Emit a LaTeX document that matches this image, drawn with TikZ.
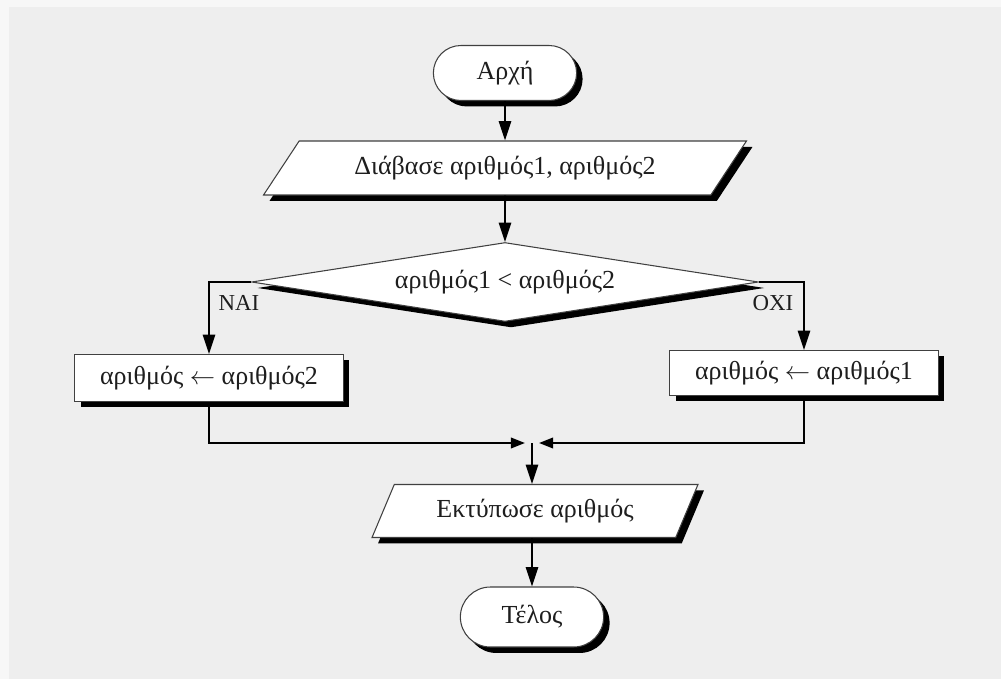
\documentclass[tikz,border=0pt]{standalone}
\usepackage{fontspec}
\setmainfont{Liberation Serif}
\usetikzlibrary{arrows.meta,shapes.geometric,shapes.misc,shadows}

\definecolor{pagebg}{HTML}{F7F7F7}
\definecolor{panelbg}{HTML}{EEEEEE}
\definecolor{ink}{HTML}{1E1E1E}

\begin{document}
\begin{tikzpicture}[x=0.02cm,y=-0.02cm,
    >={Triangle[length=11pt,width=7pt]},
    every node/.style={font=\fontsize{14.8}{17}\selectfont, text=ink},
    blackshadow/.style={drop shadow={shadow xshift=3.4pt,shadow yshift=-3.4pt,opacity=1,fill=black}},
    terminal/.style={rounded rectangle, draw=black!75, line width=0.6pt, fill=white, blackshadow, minimum width=3.1cm, minimum height=1.1cm},
    io/.style={trapezium, trapezium left angle=45, trapezium right angle=135, trapezium stretches body, draw=black!75, line width=0.6pt, fill=white, blackshadow, minimum height=1.08cm},
    process/.style={rectangle, draw=black!75, line width=0.6pt, fill=white, blackshadow, minimum width=5.38cm, minimum height=0.94cm},
    decision/.style={diamond, aspect=6.4, inner sep=1pt, draw=black!75, line width=0.6pt, fill=white, blackshadow, minimum width=10.14cm, minimum height=1.58cm},
    flow/.style={->, line width=1.1pt},
    lbl/.style={font=\fontsize{13}{15}\selectfont}]

    \fill[pagebg] (0,0) rectangle (1001,679); % page
    \fill[panelbg] (9,7) rectangle (1001,679); % panel

    \node[terminal] (start) at (505,73) {Αρχή}; % start
    \node[io, minimum width=9.66cm] (read) at (505,168) {Διάβασε αριθμός1, αριθμός2}; % input
    \node[decision] (cond) at (505,282) {αριθμός1 < αριθμός2}; % test
    \node[process] (yesbox) at (209,378) {αριθμός $\leftarrow$ αριθμός2}; % yes branch
    \node[process, minimum height=0.9cm] (nobox) at (804,373) {αριθμός $\leftarrow$ αριθμός1}; % no branch
    \node[io, trapezium left angle=58, trapezium right angle=122, minimum width=6.52cm, minimum height=1.06cm] (print) at (535,511) {Εκτύπωσε αριθμός}; % output
    \node[terminal, minimum height=1.2cm] (end) at (532,617) {Τέλος}; % end

    \node[lbl] (yes) at (239,303) {ΝΑΙ};
    \node[lbl] (no) at (773,303) {ΟΧΙ};

    \coordinate (join) at (532,443);
    \coordinate (joinL) at (525,443);
    \coordinate (joinR) at (539,443);

    \draw[flow] (start) -- (read);
    \draw[flow] (read) -- (cond);
    \draw[flow] (cond.west) -| (yesbox.north); % yes
    \draw[flow] (cond.east) -| (nobox.north); % no
    \draw[flow, -{Triangle[length=8pt,width=6pt]}] (yesbox.south) |- (joinL);
    \draw[flow, -{Triangle[length=8pt,width=6pt]}] (nobox.south) |- (joinR);
    \draw[flow] (join) -- (join |- print.north);
    \draw[flow] (print.south -| end.north) -- (end.north);
\end{tikzpicture}
\end{document}
